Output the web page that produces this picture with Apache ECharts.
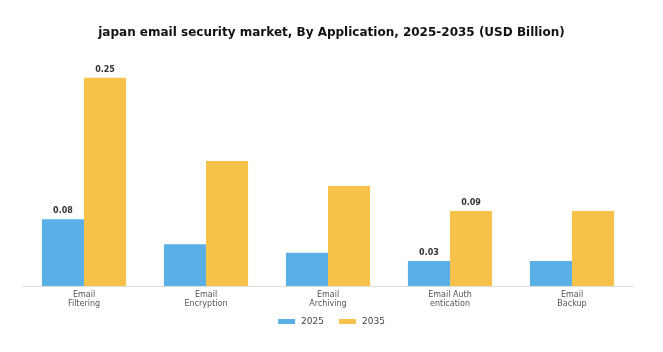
<!DOCTYPE html>
<html><head><meta charset="utf-8">
<script src="https://cdn.jsdelivr.net/npm/echarts@6/dist/echarts.min.js"></script>
<style>html,body{margin:0;padding:0;background:#fff}#c{width:663px;height:352px}</style>
</head><body><div id="c"></div>
<script>
const categories = ["Email\nFiltering", "Email\nEncryption", "Email\nArchiving", "Email Auth\nentication", "Email\nBackup"];
const values2025 = [0.08, 0.05, 0.04, 0.03, 0.03];
const values2035 = [0.25, 0.15, 0.12, 0.09, 0.09];
const labeled = [0, 3];

const chart = echarts.init(document.getElementById('c'));
function mk(vals) {
  return vals.map((v, i) => ({
    value: v,
    label: { show: labeled.indexOf(i) >= 0 }
  }));
}
chart.setOption({
  backgroundColor: '#fff',
  animation: false,
  title: {
    text: 'japan email security market, By Application, 2025-2035 (USD Billion)',
    left: 'center', top: 22,
    textStyle: { fontFamily: 'DejaVu Sans', fontSize: 12, fontWeight: 'bold', color: '#111' }
  },
  legend: {
    data: ['2025', '2035'], bottom: 21, left: 'center',
    itemWidth: 17, itemHeight: 5, itemGap: 15, icon: 'rect',
    textStyle: { fontFamily: 'DejaVu Sans', fontSize: 9, color: '#444', padding: [0, 0, 0, 1] }
  },
  grid: { left: 23, right: 30, top: 36, bottom: 66 },
  xAxis: {
    type: 'category', data: categories,
    axisLine: { lineStyle: { color: '#ddd' } },
    axisTick: { show: false },
    axisLabel: { fontFamily: 'DejaVu Sans', fontSize: 8, color: '#555', lineHeight: 9, margin: 4 }
  },
  yAxis: {
    type: 'value', min: 0, max: 0.3,
    show: false, splitLine: { show: false }
  },
  series: [
    { name: '2025', type: 'bar', data: mk(values2025), barGap: '0%', barCategoryGap: '31%',
      itemStyle: { color: '#5aafe6' },
      label: { position: 'top', fontFamily: 'DejaVu Sans', fontSize: 8, fontWeight: 'bold', color: '#333', distance: 4 } },
    { name: '2035', type: 'bar', data: mk(values2035), barGap: '0%', barCategoryGap: '31%',
      itemStyle: { color: '#f8c14a' },
      label: { position: 'top', fontFamily: 'DejaVu Sans', fontSize: 8, fontWeight: 'bold', color: '#333', distance: 4 } }
  ]
});
</script></body></html>
